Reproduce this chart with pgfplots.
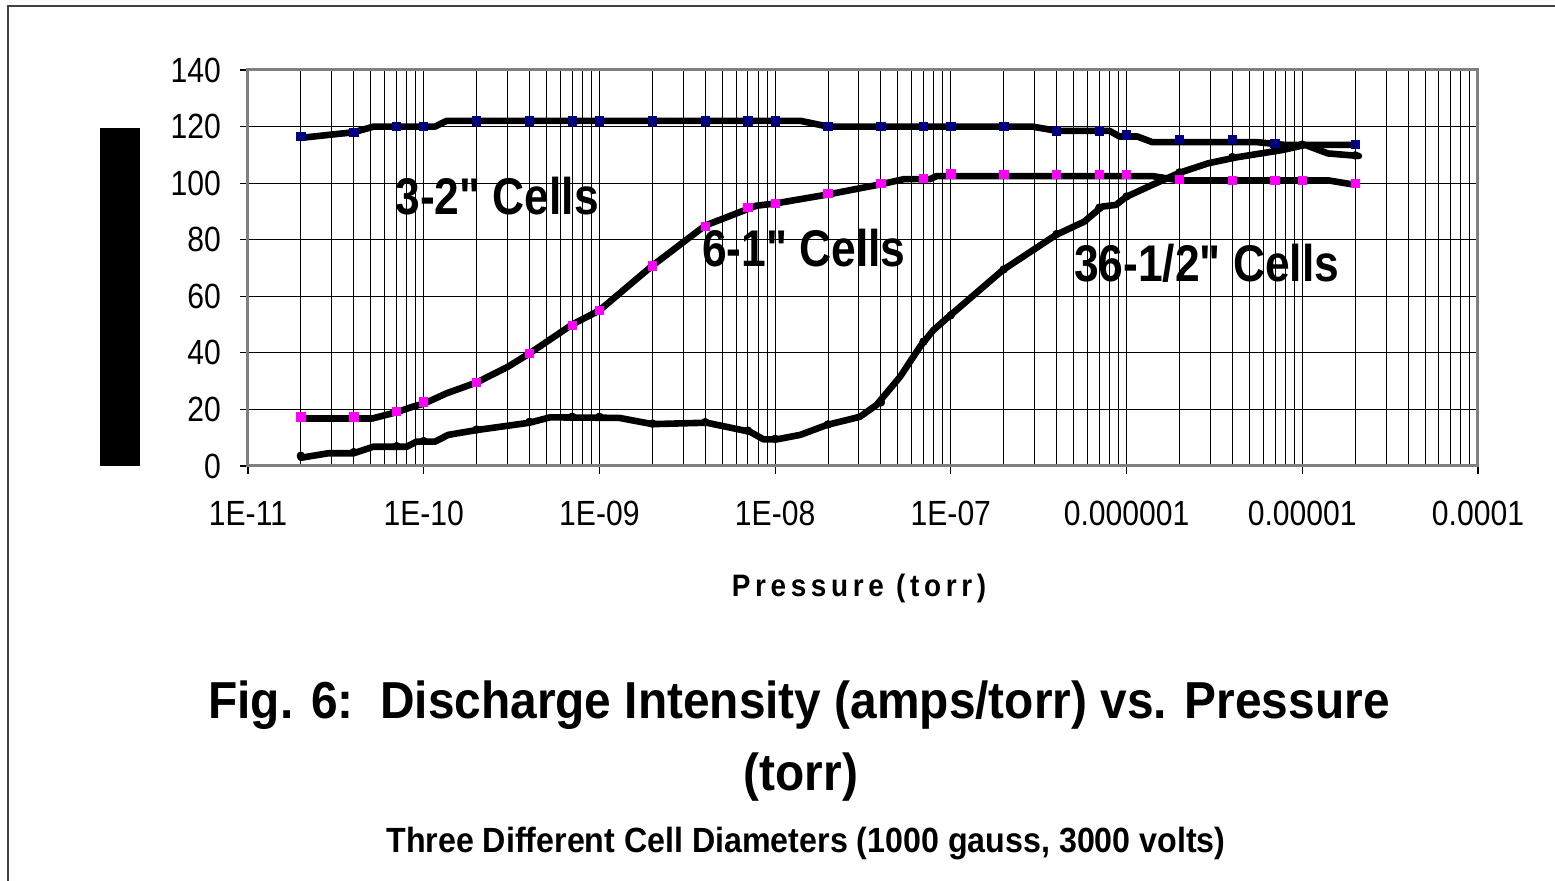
\documentclass[border=0pt]{standalone}
\usepackage{fontspec}
\setmainfont{Liberation Sans}[FakeStretch=0.86, Ligatures=TeXOff]
\newfontfamily\lsfont{Liberation Sans}[FakeStretch=0.9, LetterSpace=15]
\newfontfamily\tfont{Liberation Sans}[FakeStretch=0.92]
\usepackage{pgfplots}
\pgfplotsset{compat=1.18}
\definecolor{axgray}{RGB}{128,128,128}
\definecolor{navyblue}{RGB}{0,0,128}
\definecolor{magentapink}{RGB}{255,0,255}
\begin{document}
\begin{tikzpicture}
\path[use as bounding box] (-124pt,-207.5pt) rectangle (653.5pt,233pt);
\draw[line width=1pt, black!75] (-120pt,-215pt) -- (-120pt,230pt) -- (665pt,230pt);
\fill[black] (-74pt,0pt) rectangle (-54pt,169pt);
\begin{axis}[
  at={(0pt,0pt)}, anchor=south west,
  scale only axis, width=615pt, height=198pt,
  xmode=log, xmin=1e-11, xmax=1e-4, ymin=0, ymax=140,
  xtick={1e-11,1e-10,1e-9,1e-8,1e-7,1e-6,1e-5,1e-4},
  xticklabels={1E-11,1E-10,1E-09,1E-08,1E-07,0.000001,0.00001,0.0001},
  minor xtick={2e-11,3e-11,4e-11,5e-11,6e-11,7e-11,8e-11,9e-11,
    2e-10,3e-10,4e-10,5e-10,6e-10,7e-10,8e-10,9e-10,
    2e-9,3e-9,4e-9,5e-9,6e-9,7e-9,8e-9,9e-9,
    2e-8,3e-8,4e-8,5e-8,6e-8,7e-8,8e-8,9e-8,
    2e-7,3e-7,4e-7,5e-7,6e-7,7e-7,8e-7,9e-7,
    2e-6,3e-6,4e-6,5e-6,6e-6,7e-6,8e-6,9e-6,
    2e-5,3e-5,4e-5,5e-5,6e-5,7e-5,8e-5,9e-5},
  ytick={0,20,...,140},
  xmajorgrids, xminorgrids, ymajorgrids,
  grid style={black, line width=0.5pt},
  minor grid style={black, line width=0.5pt},
  axis line style={draw=axgray, line width=1.5pt},
  tick align=outside, xtick pos=bottom, ytick pos=left,
  major tick length=4pt, minor tick length=0pt,
  tick style={black, line width=0.6pt},
  /pgf/number format/assume math mode=true,
  tick label style={font=\fontsize{17.5}{20}\selectfont},
  yticklabel style={xshift=-6pt},
  xticklabel style={yshift=-10pt},
  clip=false,
]
% 3-2" cells line
\addplot[black, line width=3.3pt, line join=round, line cap=round] coordinates {
(2e-11,116)(4e-11,118)(5.2e-11,120)(1.16e-10,120)(1.35e-10,122)(1.4e-8,122)(2e-8,120)(2.9e-7,120)(4e-7,118.5)(8e-7,118.5)(9.1e-7,116.5)(1.15e-6,116.5)(1.4e-6,114.5)(5.5e-6,114.5)(8e-6,113.5)(2e-5,113.5)};
% 6-1" cells line
\addplot[black, line width=3.3pt, line join=round, line cap=round] coordinates {
(2e-11,16.8)(5.1e-11,16.8)(7e-11,19)(8.7e-11,21)(1e-10,22)(1.35e-10,25.7)(2e-10,29.5)(3e-10,35)(4e-10,39.8)(7e-10,50)(1e-9,55)(2e-9,70.8)(4e-9,85)(7.8e-9,92)(1e-8,92.8)(2e-8,96)(4e-8,99.6)(5.4e-8,101.4)(7.6e-8,101.4)(8.3e-8,102.5)(1.4e-6,102.5)(2e-6,101)(1.4e-5,101)(2e-5,99.4)};
% 36-1/2" cells line
\addplot[black, line width=3.3pt, line join=round, line cap=round] coordinates {
(2e-11,2.9)(2.86e-11,4.5)(4e-11,4.5)(5.16e-11,6.8)(8e-11,6.8)(9.1e-11,8.6)(1.16e-10,8.6)(1.38e-10,11)(2e-10,12.7)(4e-10,15.3)(5.24e-10,17.2)(1.3e-9,17)(2e-9,14.8)(4.08e-9,15.3)(7.2e-9,12.1)(8.6e-9,9.4)(1.02e-8,9.4)(1.39e-8,11)(1.97e-8,14.5)(3.04e-8,17.4)(3.78e-8,21.6)(5.15e-8,31.6)(6.68e-8,42.2)(7.95e-8,48)(9.48e-8,52.2)(1.98e-7,69.3)(3.97e-7,81.7)(5.75e-7,86.4)(7.25e-7,91.7)(8.7e-7,92.3)(1e-6,95.2)(1.39e-6,99.3)(2.01e-6,103.7)(2.91e-6,107)(4.2e-6,109.1)(7.7e-6,111.7)(1.04e-5,113.5)(1.4e-5,110.5)(2.1e-5,109.6)};
% markers
\addplot[only marks, mark=*, mark size=1.9pt, black] coordinates {
(2e-11,3.6)(4e-11,4.9)(7e-11,7.0)(1e-10,8.8)(2e-10,12.9)(4e-10,15.6)(7e-10,17.4)(1e-9,17.4)(2e-9,15.0)(4e-9,15.5)(7e-9,12.5)(1e-8,9.6)(2e-8,14.7)(4e-8,22.5)(7e-8,44)(1e-7,53.3)(2e-7,69.5)(4e-7,82)(7e-7,91.3)(1e-6,95.3)(2e-6,103.8)(4e-6,109.2)(7e-6,111.7)(1e-5,113.6)(2e-5,109.8)};
\addplot[only marks, mark=square*, mark size=2.1pt, navyblue, mark options={rounded corners=0.8pt}] coordinates {
(2e-11,116.5)(4e-11,118)(7e-11,120)(1e-10,120)(2e-10,122)(4e-10,122)(7e-10,122)(1e-9,122)(2e-9,122)(4e-9,122)(7e-9,122)(1e-8,122)(2e-8,120)(4e-8,120)(7e-8,120)(1e-7,120)(2e-7,120)(4e-7,118.5)(7e-7,118.5)(1e-6,117)(2e-6,115.5)(4e-6,115.5)(7e-6,114)(2e-5,113.6)};
\addplot[only marks, mark=square*, mark size=2.1pt, magentapink, mark options={rounded corners=0.8pt}] coordinates {
(2e-11,17.4)(4e-11,17.4)(7e-11,19.2)(1e-10,22.7)(2e-10,29.5)(4e-10,39.8)(7e-10,49.8)(1e-9,55.1)(2e-9,70.8)(4e-9,84.6)(7e-9,91.4)(1e-8,92.8)(2e-8,96.4)(4e-8,99.9)(7e-8,101.6)(1e-7,103.2)(2e-7,103)(4e-7,103)(7e-7,103)(1e-6,103)(2e-6,101.3)(4e-6,101)(7e-6,101)(1e-5,101)(2e-5,99.9)};
\end{axis}
\node[anchor=base west, inner sep=0pt, font=\bfseries\fontsize{25.8}{30}\selectfont] at (73.5pt,125.5pt) {3-2" Cells};
\node[anchor=base west, inner sep=0pt, font=\bfseries\fontsize{25.8}{30}\selectfont] at (226.8pt,99.7pt) {6-1" Cells};
\node[anchor=base west, inner sep=0pt, font=\bfseries\fontsize{25.8}{30}\selectfont] at (412.8pt,92.2pt) {36-1/2" Cells};
\node[anchor=base, inner sep=0pt, font=\lsfont\bfseries\fontsize{15.5}{18}\selectfont] at (305.5pt,-65.3pt) {Pressure (torr)};
\node[anchor=base, inner sep=0pt, font=\tfont\bfseries\fontsize{26}{30}\selectfont] at (275.5pt,-126.5pt) {Fig. 6:\ \ Discharge Intensity (amps/torr) vs. Pressure};
\node[anchor=base, inner sep=0pt, font=\tfont\bfseries\fontsize{26}{30}\selectfont] at (276.5pt,-162.5pt) {(torr)};
\node[anchor=base, inner sep=0pt, font=\tfont\bfseries\fontsize{17.5}{20}\selectfont] at (279pt,-193.5pt) {Three Different Cell Diameters (1000 gauss, 3000 volts)};
\end{tikzpicture}
\end{document}
